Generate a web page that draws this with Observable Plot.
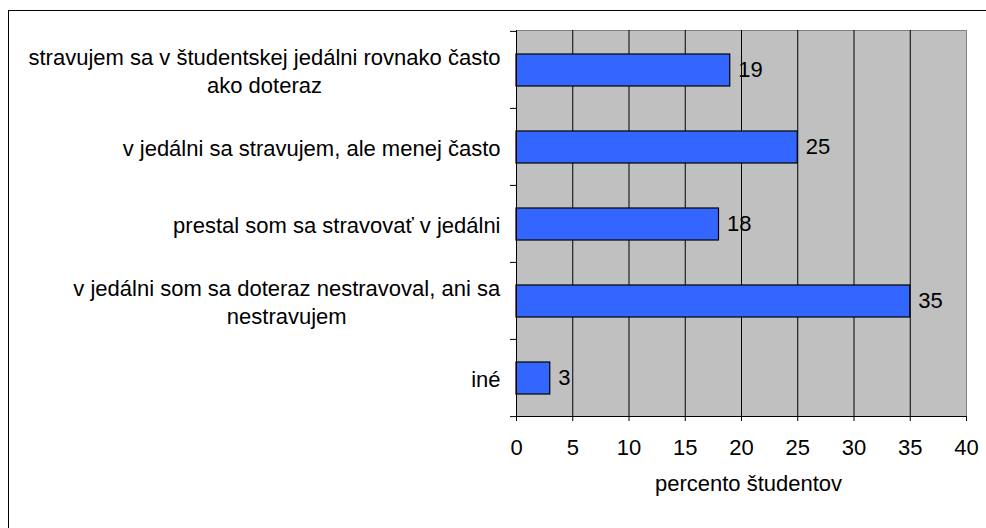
<!DOCTYPE html>
<html>
<head>
<meta charset="utf-8">
<script src="https://cdn.jsdelivr.net/npm/d3@7"></script>
<script src="https://cdn.jsdelivr.net/npm/@observablehq/plot@0.6"></script>
<style>
  html, body { margin: 0; padding: 0; background: #fff; }
  #wrap { position: relative; width: 986px; height: 528px; overflow: hidden; background: #fff; }
  #border { position: absolute; left: 8px; top: 10px; width: 1000px; height: 600px; border: 1px solid #000; box-sizing: border-box; }
  #chart { position: absolute; left: 0; top: 0; }
</style>
</head>
<body>
<div id="wrap"><div id="border"></div><div id="chart"></div></div>
<script>
const categories = [
  "stravujem sa v študentskej jedálni rovnako často ako doteraz",
  "v jedálni sa stravujem, ale menej často",
  "prestal som sa stravovať v jedálni",
  "v jedálni som sa doteraz nestravoval, ani sa nestravujem",
  "iné"
];
const categoryLabels = [
  "stravujem sa v študentskej jedálni rovnako často\nako doteraz",
  "v jedálni sa stravujem, ale menej často",
  "prestal som sa stravovať v jedálni",
  "v jedálni som sa doteraz nestravoval, ani sa\nnestravujem",
  "iné"
];
const values = [19, 25, 18, 35, 3];
const xTicks = [0, 5, 10, 15, 20, 25, 30, 35, 40];
const gridTicks = [5, 10, 15, 20, 25, 30, 35];
const xLabel = "percento študentov";

const data = categories.map((c, i) => ({category: c, value: values[i]}));
const labelOf = new Map(categories.map((c, i) => [c, categoryLabels[i]]));

const H = 528, MT = 30, MB = 112;
const step = (H - MT - MB) / categories.length;

const chart = Plot.plot({
  width: 986,
  height: H,
  marginLeft: 516,
  marginRight: 20,
  marginTop: MT,
  marginBottom: MB,
  style: {fontFamily: "'Liberation Sans', Arial, sans-serif", fontSize: "22px", color: "#000", background: "transparent", overflow: "visible"},
  x: {domain: [0, 40]},
  y: {domain: categories, padding: 0},
  marks: [
    Plot.frame({fill: "#c0c0c0", stroke: "#808080"}),
    Plot.gridX(gridTicks, {stroke: "#000", strokeOpacity: 1}),
    Plot.barX(data, {x: "value", y: "category", fill: "#3366ff", stroke: "#000", strokeWidth: 1.2, insetTop: 23, insetBottom: 22}),
    Plot.ruleX([0], {stroke: "#000"}),
    Plot.frame({anchor: "bottom", stroke: "#000"}),
    Plot.ruleY(categories, {y: d => d, x1: 0, x2: 0, insetLeft: -6, dy: -step / 2, stroke: "#000"}),
    Plot.ruleY([categories[categories.length - 1]], {y: d => d, x1: 0, x2: 0, insetLeft: -6, dy: step / 2, stroke: "#000"}),
    Plot.axisX({ticks: xTicks, tickSize: 5, tickPadding: 18, label: null, stroke: "#000"}),
    Plot.axisY({tickSize: 0, tickPadding: 16, label: null, tickFormat: d => labelOf.get(d), lineHeight: 1.27}),
    Plot.text(data, {x: "value", y: "category", text: d => String(d.value), textAnchor: "start", dx: 8, dy: 0}),
    Plot.text([xLabel], {frameAnchor: "bottom", text: d => d, dy: 74, dx: 7})
  ]
});

document.getElementById("chart").appendChild(chart);

// center multi-line category labels within their own block (right edge stays at the axis padding)
chart.querySelectorAll('[aria-label="y-axis tick label"] text').forEach(t => {
  if (t.querySelectorAll("tspan").length > 1) {
    const w = t.getBBox().width;
    t.setAttribute("text-anchor", "middle");
    const tr = t.getAttribute("transform") || "";
    t.setAttribute("transform", tr + ` translate(${-w / 2},0)`);
  }
});
</script>
</body>
</html>
